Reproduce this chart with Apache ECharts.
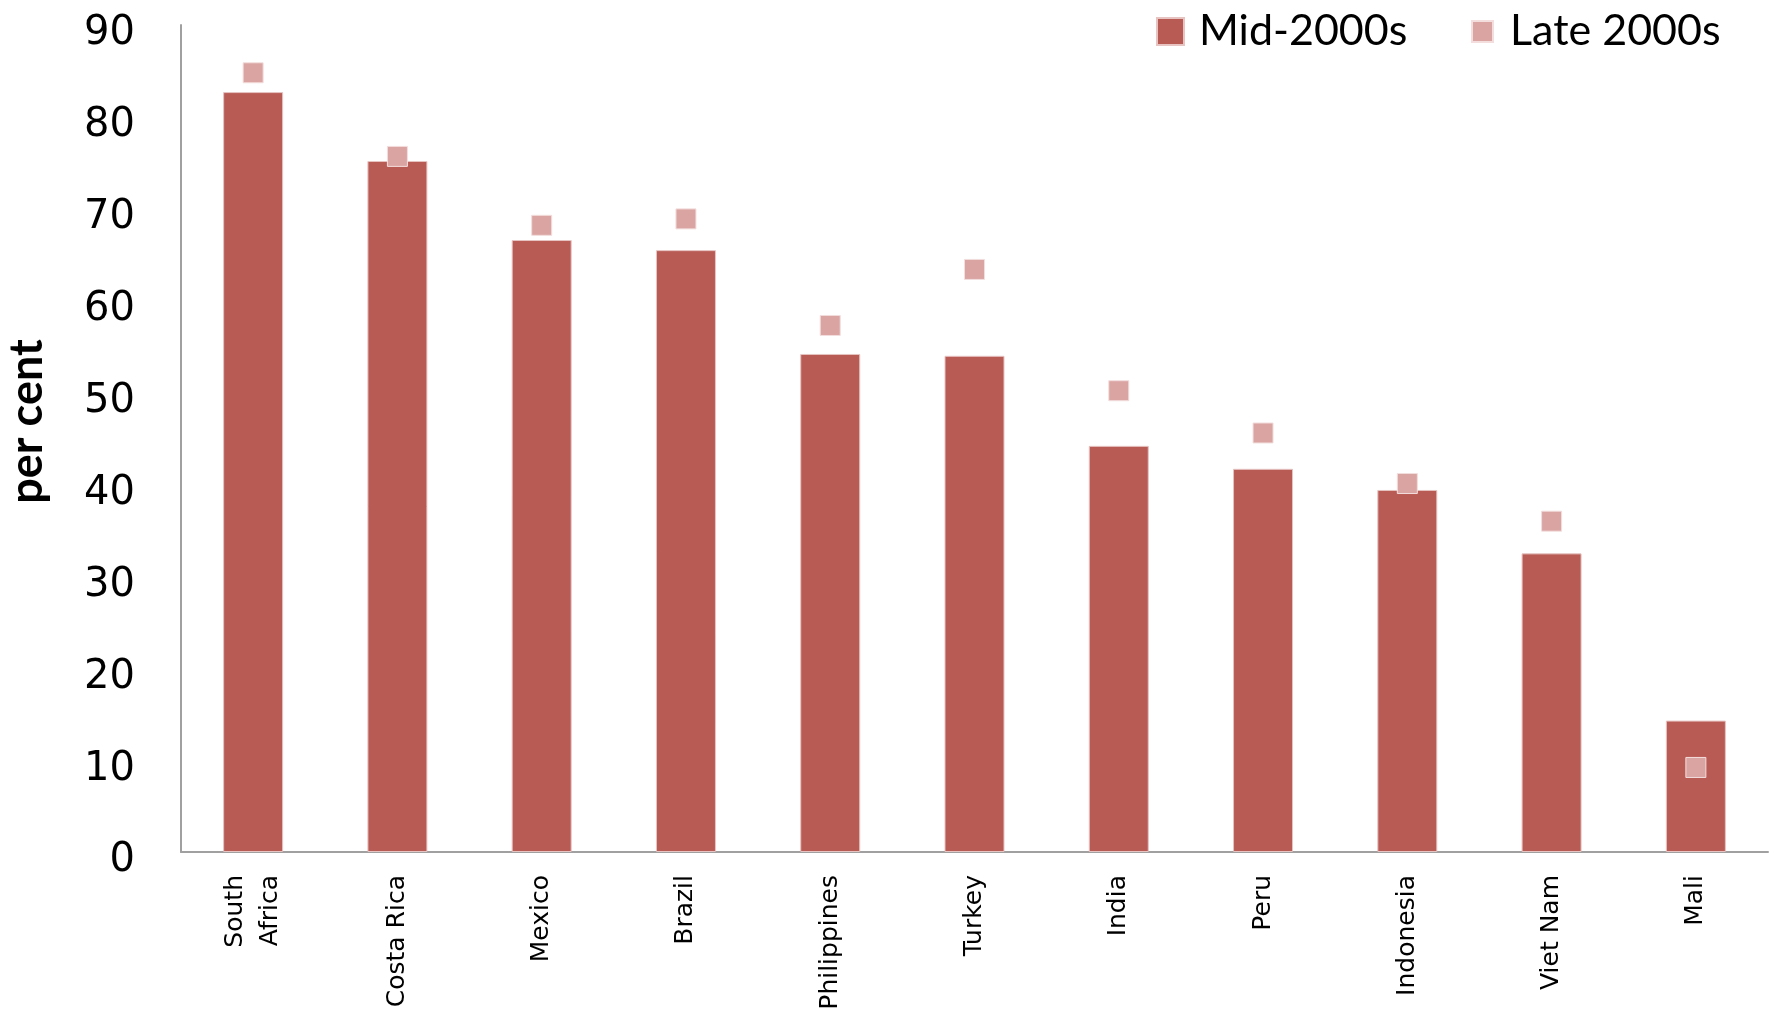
<!DOCTYPE html>
<html>
<head>
<meta charset="utf-8">
<title>per cent</title>
<script src="https://cdn.jsdelivr.net/npm/echarts@6/dist/echarts.min.js"></script>
<style>
  html, body { margin: 0; padding: 0; background: #fff; }
  #chart { width: 1775px; height: 1014px; }
</style>
</head>
<body>
<div id="chart"></div>
<script>
// data
var countries = ['South\nAfrica', 'Costa Rica', 'Mexico', 'Brazil', 'Philippines', 'Turkey',
  'India', 'Peru', 'Indonesia', 'Viet Nam', 'Mali'];
var mid2000s = [82.7, 75.2, 66.6, 65.5, 54.2, 54.0, 44.2, 41.7, 39.4, 32.5, 14.3];
var late2000s = [84.8, 75.7, 68.2, 68.9, 57.3, 63.4, 50.2, 45.6, 40.1, 36.0, 9.2];
var yTicks = { min: 0, max: 90, interval: 10 };

var barColor = '#B95B55';
var dotColor = '#D9A4A2';

var chart = echarts.init(document.getElementById('chart'));

chart.setOption({
  animation: false,
  grid: { left: 181, right: 7, top: 25, bottom: 162, outerBoundsMode: 'none' },
  legend: [
    {
      left: 1151, top: 5,
      data: [{ name: 'Mid-2000s', icon: 'rect' }],
      itemWidth: 27, itemHeight: 27,
      textStyle: { fontFamily: 'Lato', fontSize: 43, color: '#000', padding: [0, 0, 0, 10] }
    },
    {
      left: 1466, top: 5,
      data: [{ name: 'Late 2000s', icon: 'rect' }],
      itemWidth: 21, itemHeight: 21,
      textStyle: { fontFamily: 'Lato', fontSize: 43, color: '#000', padding: [0, 0, 0, 12] }
    }
  ],
  xAxis: {
    type: 'category',
    data: countries,
    axisLine: { lineStyle: { color: '#A0A0A0', width: 2 } },
    axisTick: { show: false },
    axisLabel: {
      rotate: 90,
      margin: 23,
      interval: 0,
      fontFamily: 'DejaVu Sans',
      fontSize: 25,
      lineHeight: 35,
      color: '#000'
    }
  },
  yAxis: {
    type: 'value',
    min: yTicks.min, max: yTicks.max, interval: yTicks.interval,
    name: 'per cent',
    nameLocation: 'middle',
    nameGap: 131,
    nameTextStyle: {
      fontFamily: 'Lato', fontWeight: 'bold', fontSize: 45, color: '#000',
      padding: [0, 0, 0, 34]
    },
    axisLine: { show: true, lineStyle: { color: '#A0A0A0', width: 2 } },
    axisTick: { show: false },
    splitLine: { show: false },
    axisLabel: {
      margin: 46, fontFamily: 'DejaVu Sans', fontSize: 40, color: '#000',
      verticalAlign: 'top', lineHeight: 18
    }
  },
  series: [
    {
      name: 'Mid-2000s',
      type: 'bar',
      data: mid2000s,
      barWidth: 60,
      itemStyle: { color: barColor, borderColor: '#E7C4C2', borderWidth: 1 }
    },
    {
      name: 'Late 2000s',
      type: 'scatter',
      data: late2000s,
      symbol: 'rect',
      symbolSize: 20,
      itemStyle: { color: dotColor, borderColor: '#F3DEDD', borderWidth: 1, opacity: 1 },
      z: 5
    }
  ]
});
</script>
</body>
</html>
